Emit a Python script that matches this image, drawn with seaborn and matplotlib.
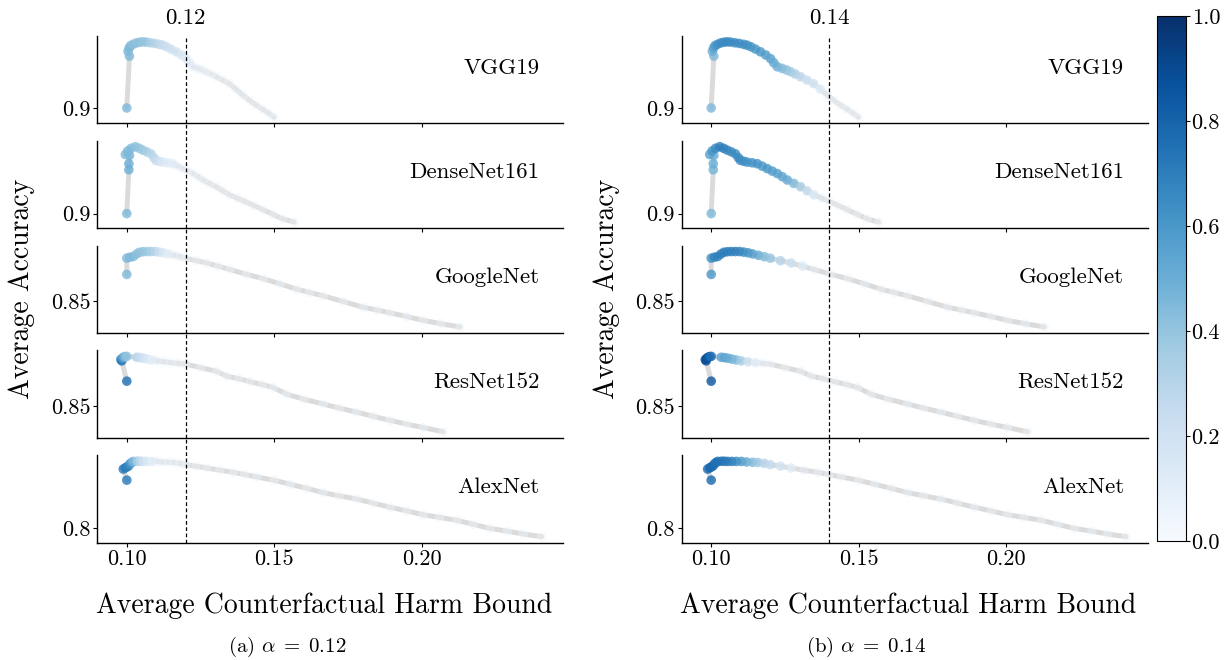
import matplotlib.pyplot as plt
import matplotlib as mpl
import pandas as pd
import seaborn as sns

MODELS = ["VGG19", "DenseNet161", "GoogleNet", "ResNet152", "AlexNet"]
ALPHAS = [0.12, 0.14]
ALPHA_LABELS = ["0.12", "0.14"]
PANEL_TAGS = ["(a)", "(b)"]
Y_TICKS = [0.9, 0.9, 0.85, 0.85, 0.8]
Y_TICK_LABELS = ["0.9", "0.9", "0.85", "0.85", "0.8"]
X_TICKS = [0.10, 0.15, 0.20]
X_TICK_LABELS = ["0.10", "0.15", "0.20"]
CBAR_TICKS = [0.0, 0.2, 0.4, 0.6, 0.8, 1.0]
CBAR_LABELS = ["0.0", "0.2", "0.4", "0.6", "0.8", "1.0"]

# VGG19
vgg_harm = [0.1000, 0.1009, 0.1004, 0.1008, 0.1013, 0.1021, 0.1032, 0.1042, 0.1053, 0.1065,
            0.1080, 0.1095, 0.1110, 0.1122, 0.1135, 0.1150, 0.1167, 0.1185, 0.1201, 0.1212,
            0.1224, 0.1240, 0.1255, 0.1269, 0.1285, 0.1303, 0.1325, 0.1347, 0.1370, 0.1393,
            0.1415, 0.1438, 0.1460, 0.1482, 0.1499]
vgg_acc = [0.9000, 0.9229, 0.9250, 0.9265, 0.9275, 0.9281, 0.9287, 0.9290, 0.9292, 0.9291,
           0.9288, 0.9285, 0.9281, 0.9277, 0.9270, 0.9260, 0.9248, 0.9234, 0.9218, 0.9200,
           0.9182, 0.9175, 0.9168, 0.9160, 0.9150, 0.9138, 0.9123, 0.9108, 0.9083, 0.9057,
           0.9035, 0.9013, 0.8995, 0.8976, 0.8959]
vgg_col_a = [0.45, 0.45, 0.45, 0.45, 0.45, 0.42, 0.42, 0.42, 0.40, 0.40,
             0.35, 0.32, 0.28, 0.25, 0.22, 0.20, 0.18, 0.15, 0.12, 0.10,
             0.08, 0.08, 0.06, 0.06, 0.05, 0.05, 0.05, 0.05, 0.05, 0.05,
             0.05, 0.05, 0.05, 0.05, 0.05]
vgg_col_b = [0.45, 0.45, 0.50, 0.55, 0.60, 0.62, 0.65, 0.65, 0.66, 0.66,
             0.65, 0.65, 0.64, 0.63, 0.62, 0.60, 0.60, 0.58, 0.55, 0.52,
             0.50, 0.45, 0.42, 0.38, 0.33, 0.28, 0.22, 0.18, 0.12, 0.08,
             0.05, 0.05, 0.05, 0.05, 0.05]

# DenseNet161
dn_harm = [0.1000, 0.1007, 0.1007, 0.1009, 0.0995, 0.1003, 0.1015, 0.1029, 0.1042, 0.1054,
           0.1068, 0.1082, 0.1092, 0.1099, 0.1110, 0.1122, 0.1139, 0.1156, 0.1173, 0.1190,
           0.1207, 0.1224, 0.1241, 0.1258, 0.1280, 0.1303, 0.1325, 0.1348, 0.1375, 0.1401,
           0.1431, 0.1461, 0.1495, 0.1529, 0.1568]
dn_acc = [0.9000, 0.9196, 0.9223, 0.9260, 0.9264, 0.9280, 0.9292, 0.9299, 0.9292, 0.9284,
          0.9276, 0.9267, 0.9250, 0.9238, 0.9234, 0.9230, 0.9227, 0.9223, 0.9212, 0.9201,
          0.9190, 0.9179, 0.9165, 0.9150, 0.9135, 0.9120, 0.9102, 0.9084, 0.9069, 0.9054,
          0.9036, 0.9018, 0.8997, 0.8976, 0.8962]
dn_col_a = [0.45, 0.50, 0.50, 0.48, 0.45, 0.45, 0.45, 0.42, 0.40, 0.38,
            0.35, 0.30, 0.28, 0.25, 0.20, 0.15, 0.12, 0.10, 0.08, 0.06,
            0.05, 0.05, 0.05, 0.05, 0.05, 0.05, 0.05, 0.05, 0.05, 0.05,
            0.05, 0.05, 0.05, 0.05, 0.05]
dn_col_b = [0.45, 0.48, 0.50, 0.50, 0.55, 0.60, 0.65, 0.70, 0.70, 0.68,
            0.66, 0.65, 0.65, 0.65, 0.64, 0.63, 0.62, 0.62, 0.60, 0.60,
            0.58, 0.56, 0.55, 0.52, 0.45, 0.35, 0.25, 0.15, 0.08, 0.05,
            0.05, 0.05, 0.05, 0.05, 0.05]

# GoogleNet
gn_harm = [0.1000, 0.1000, 0.1010, 0.1022, 0.1033, 0.1043, 0.1055, 0.1068, 0.1082, 0.1096,
           0.1110, 0.1125, 0.1140, 0.1160, 0.1180, 0.1200, 0.1235, 0.1271, 0.1310, 0.1350,
           0.1405, 0.1463, 0.1520, 0.1576, 0.1620, 0.1666, 0.1735, 0.1802, 0.1850, 0.1893,
           0.1950, 0.2005, 0.2065, 0.2130]
gn_acc = [0.8651, 0.8742, 0.8747, 0.8751, 0.8765, 0.8775, 0.8778, 0.8779, 0.8779, 0.8779,
          0.8776, 0.8772, 0.8766, 0.8758, 0.8750, 0.8742, 0.8728, 0.8715, 0.8697, 0.8678,
          0.8652, 0.8627, 0.8598, 0.8568, 0.8550, 0.8531, 0.8499, 0.8467, 0.8451, 0.8436,
          0.8415, 0.8394, 0.8375, 0.8357]
gn_col_a = [0.45, 0.45, 0.45, 0.45, 0.42, 0.42, 0.40, 0.38, 0.35, 0.30,
            0.22, 0.15, 0.10, 0.08, 0.06, 0.05, 0.05, 0.05, 0.05, 0.05,
            0.05, 0.05, 0.05, 0.05, 0.05, 0.05, 0.05, 0.05, 0.05, 0.05,
            0.05, 0.05, 0.05, 0.05]
gn_col_b = [0.60, 0.62, 0.68, 0.70, 0.70, 0.70, 0.70, 0.70, 0.70, 0.68,
            0.66, 0.62, 0.58, 0.52, 0.45, 0.40, 0.30, 0.22, 0.12, 0.07,
            0.05, 0.05, 0.05, 0.05, 0.05, 0.05, 0.05, 0.05, 0.05, 0.05,
            0.05, 0.05, 0.05, 0.05]

# ResNet152
rn_harm = [0.1000, 0.0983, 0.0980, 0.0985, 0.0990, 0.0995, 0.1000, 0.1034, 0.1045, 0.1056,
           0.1070, 0.1085, 0.1102, 0.1125, 0.1150, 0.1175, 0.1200, 0.1250, 0.1305, 0.1339,
           0.1380, 0.1418, 0.1460, 0.1497, 0.1542, 0.1600, 0.1666, 0.1720, 0.1780, 0.1835,
           0.1893, 0.1950, 0.2005, 0.2073]
rn_acc = [0.8641, 0.8755, 0.8762, 0.8770, 0.8776, 0.8779, 0.8780, 0.8775, 0.8773, 0.8770,
          0.8765, 0.8760, 0.8755, 0.8750, 0.8745, 0.8741, 0.8737, 0.8717, 0.8696, 0.8669,
          0.8655, 0.8638, 0.8622, 0.8605, 0.8568, 0.8540, 0.8513, 0.8490, 0.8467, 0.8444,
          0.8421, 0.8400, 0.8381, 0.8357]
rn_col_a = [0.75, 0.75, 0.72, 0.60, 0.50, 0.45, 0.40, 0.30, 0.25, 0.20,
            0.15, 0.10, 0.08, 0.06, 0.05, 0.05, 0.05, 0.05, 0.05, 0.05,
            0.05, 0.05, 0.05, 0.05, 0.05, 0.05, 0.05, 0.05, 0.05, 0.05,
            0.05, 0.05, 0.05, 0.05]
rn_col_b = [0.85, 0.88, 0.90, 0.88, 0.85, 0.80, 0.75, 0.55, 0.55, 0.52,
            0.50, 0.45, 0.35, 0.20, 0.10, 0.06, 0.05, 0.05, 0.05, 0.05,
            0.05, 0.05, 0.05, 0.05, 0.05, 0.05, 0.05, 0.05, 0.05, 0.05,
            0.05, 0.05, 0.05, 0.05]

# AlexNet
al_harm = [0.1000, 0.0988, 0.0995, 0.1000, 0.1006, 0.1011, 0.1017, 0.1022, 0.1035, 0.1045,
           0.1056, 0.1070, 0.1085, 0.1102, 0.1120, 0.1140, 0.1158, 0.1180, 0.1200, 0.1235,
           0.1271, 0.1315, 0.1361, 0.1400, 0.1441, 0.1500, 0.1554, 0.1610, 0.1666, 0.1720,
           0.1780, 0.1835, 0.1893, 0.1950, 0.2005, 0.2060, 0.2119, 0.2175, 0.2232, 0.2290,
           0.2344, 0.2407]
al_acc = [0.8271, 0.8333, 0.8340, 0.8345, 0.8350, 0.8363, 0.8370, 0.8376, 0.8377, 0.8377,
          0.8376, 0.8376, 0.8376, 0.8376, 0.8373, 0.8371, 0.8370, 0.8365, 0.8358, 0.8349,
          0.8339, 0.8327, 0.8315, 0.8302, 0.8289, 0.8270, 0.8248, 0.8225, 0.8201, 0.8183,
          0.8165, 0.8142, 0.8119, 0.8098, 0.8077, 0.8062, 0.8046, 0.8023, 0.8000, 0.7985,
          0.7969, 0.7954]
al_col_a = [0.72, 0.72, 0.72, 0.70, 0.68, 0.62, 0.55, 0.45, 0.35, 0.28,
            0.20, 0.15, 0.10, 0.08, 0.06, 0.05, 0.05, 0.05, 0.05, 0.05,
            0.05, 0.05, 0.05, 0.05, 0.05, 0.05, 0.05, 0.05, 0.05, 0.05,
            0.05, 0.05, 0.05, 0.05, 0.05, 0.05, 0.05, 0.05, 0.05, 0.05,
            0.05, 0.05]
al_col_b = [0.78, 0.78, 0.78, 0.78, 0.78, 0.76, 0.75, 0.75, 0.74, 0.73,
            0.72, 0.70, 0.66, 0.60, 0.52, 0.45, 0.38, 0.30, 0.25, 0.18,
            0.12, 0.08, 0.06, 0.05, 0.05, 0.05, 0.05, 0.05, 0.05, 0.05,
            0.05, 0.05, 0.05, 0.05, 0.05, 0.05, 0.05, 0.05, 0.05, 0.05,
            0.05, 0.05]

HARM = [vgg_harm, dn_harm, gn_harm, rn_harm, al_harm]
ACC = [vgg_acc, dn_acc, gn_acc, rn_acc, al_acc]
COLS = [[vgg_col_a, dn_col_a, gn_col_a, rn_col_a, al_col_a],
        [vgg_col_b, dn_col_b, gn_col_b, rn_col_b, al_col_b]]

sns.set_theme(style="ticks")
plt.rcParams["font.family"] = "serif"
plt.rcParams["font.serif"] = ["cmr10"]
plt.rcParams["mathtext.fontset"] = "cm"
plt.rcParams["axes.formatter.use_mathtext"] = True
plt.rcParams["axes.unicode_minus"] = False
for key in ["text.color", "axes.labelcolor", "xtick.color", "ytick.color",
            "axes.edgecolor"]:
    plt.rcParams[key] = "black"

W_PX, H_PX = 1232, 660
fig = plt.figure(figsize=(W_PX / 100, H_PX / 100), dpi=100)

panel_left = [97.3, 681.7]
ax_w, ax_h, row_step, first_bottom = 466.0, 87.5, 104.85, 123.3
gap = (row_step - ax_h) / ax_h

for p, alpha in enumerate(ALPHAS):
    for i, model in enumerate(MODELS):
        bottom_px = first_bottom + row_step * i
        ax = fig.add_axes([panel_left[p] / W_PX, 1 - bottom_px / H_PX,
                           ax_w / W_PX, ax_h / H_PX])
        df = pd.DataFrame({"harm": HARM[i], "acc": ACC[i], "val": COLS[p][i]})
        sns.lineplot(data=df, x="harm", y="acc", sort=False, estimator=None,
                     color="#b0b0b0", lw=3.6, alpha=0.45, ax=ax, zorder=1)
        faint = df[df.val < 0.1]
        strong = df[df.val >= 0.1]
        sns.scatterplot(data=faint, x="harm", y="acc", hue="val", palette="Blues",
                        hue_norm=(0, 1), s=48, alpha=0.45, linewidth=0,
                        legend=False, ax=ax, zorder=2)
        sns.scatterplot(data=strong, x="harm", y="acc", hue="val", palette="Blues",
                        hue_norm=(0, 1), s=48, alpha=0.8, linewidth=0,
                        legend=False, ax=ax, zorder=3)
        ax.margins(y=0.08)
        ax.set_xlim(0.090, 0.248)
        ax.axvline(alpha, ymin=0, ymax=1 if i == 0 else 1 + gap, color="black",
                   lw=0.9, ls=(0, (3, 2)), clip_on=False, zorder=4)
        ax.set_xlabel("")
        ax.set_ylabel("")
        ax.set_yticks([Y_TICKS[i]])
        ax.set_yticklabels([Y_TICK_LABELS[i]], fontsize=16)
        ax.set_xticks(X_TICKS)
        if i == len(MODELS) - 1:
            ax.set_xticklabels(X_TICK_LABELS, fontsize=16)
        else:
            ax.tick_params(labelbottom=False)
        ax.tick_params(length=3, width=0.8, pad=2, colors="black")
        sns.despine(ax=ax)
        for s in ["left", "bottom"]:
            ax.spines[s].set_color("black")
            ax.spines[s].set_linewidth(1.0)
        ax.text(0.949, 0.634, model, transform=ax.transAxes, ha="right",
                va="center", fontsize=16.5)
        if i == 0:
            ax.text(alpha, 1.2, ALPHA_LABELS[p], transform=ax.get_xaxis_transform(),
                    ha="center", va="center", fontsize=16.5)

    ylab_x = [22, 607][p]
    fig.text(ylab_x / W_PX, 1 - 289 / H_PX, "Average Accuracy", rotation=90,
             ha="center", va="center", fontsize=20)
    xlab_x = [324, 908][p]
    fig.text(xlab_x / W_PX, 1 - 606 / H_PX, "Average Counterfactual Harm Bound",
             ha="center", va="center", fontsize=20)
    cap_x = [287.5, 866][p]
    fig.text(cap_x / W_PX, 1 - 647 / H_PX,
             PANEL_TAGS[p] + r" $\alpha \;=\; " + ALPHA_LABELS[p] + "$",
             ha="center", va="center", fontsize=15)

cax = fig.add_axes([1157 / W_PX, 1 - 541 / H_PX, 29 / W_PX, 525 / H_PX])
sm = mpl.cm.ScalarMappable(norm=mpl.colors.Normalize(0, 1), cmap="Blues")
cbar = fig.colorbar(sm, cax=cax, ticks=CBAR_TICKS)
cbar.ax.set_yticklabels(CBAR_LABELS, fontsize=16)
cbar.ax.tick_params(length=3, width=0.8, pad=1, colors="black")
cbar.outline.set_linewidth(0.8)
cbar.outline.set_edgecolor("black")

fig.savefig("out.png", dpi=100)
